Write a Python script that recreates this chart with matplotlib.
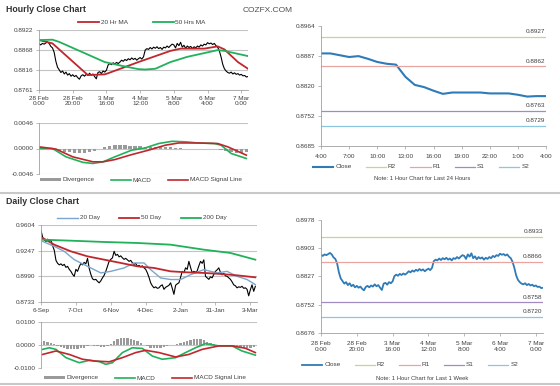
import numpy as np
import matplotlib.pyplot as plt
from matplotlib.lines import Line2D

plt.rcParams['font.family'] = ['Liberation Sans', 'DejaVu Sans']

# ---------- data ----------
# hourly closes, last week (used by the hourly chart and the 1 week chart)
hourly_close = [
    0.8885, 0.8882, 0.8886, 0.8884, 0.8887, 0.8890, 0.8886, 0.8878, 0.8874, 0.8862,
    0.8838, 0.8822, 0.8815, 0.8808, 0.8812, 0.8804, 0.8809, 0.8801, 0.8805, 0.8798,
    0.8802, 0.8797, 0.8800, 0.8794, 0.8790, 0.8799, 0.8802, 0.8798, 0.8803, 0.8800,
    0.8806, 0.8801, 0.8804, 0.8797, 0.8791, 0.8808, 0.8810, 0.8805, 0.8812, 0.8809,
    0.8814, 0.8828, 0.8832, 0.8829, 0.8834, 0.8831, 0.8835, 0.8832, 0.8836, 0.8841,
    0.8838, 0.8843, 0.8840, 0.8845, 0.8842, 0.8847, 0.8843, 0.8846, 0.8841, 0.8845,
    0.8848, 0.8844, 0.8850, 0.8868, 0.8872, 0.8870, 0.8875, 0.8871, 0.8876, 0.8873,
    0.8877, 0.8872, 0.8875, 0.8870, 0.8876, 0.8874, 0.8879, 0.8875, 0.8880, 0.8884,
    0.8882, 0.8874, 0.8886, 0.8880, 0.8889, 0.8876, 0.8881, 0.8873, 0.8879, 0.8875,
    0.8878, 0.8872, 0.8877, 0.8874, 0.8879, 0.8876, 0.8882, 0.8879, 0.8884, 0.8882,
    0.8888, 0.8885, 0.8887, 0.8883, 0.8886, 0.8880, 0.8876, 0.8866, 0.8850, 0.8830,
    0.8818, 0.8812, 0.8808, 0.8806, 0.8809, 0.8804, 0.8807, 0.8803, 0.8805, 0.8801,
    0.8803, 0.8799, 0.8800, 0.8796, 0.8797,
]
ma20_hours = [0, 8, 29, 39, 41, 59, 78, 84, 98, 106, 110, 118, 124]
ma20_vals = [0.8895, 0.8886, 0.8801, 0.8803, 0.8806, 0.8836, 0.8866, 0.8872,
             0.8872, 0.8878, 0.8870, 0.8836, 0.8818]
ma50_hours = [0, 8, 12, 20, 39, 49, 59, 63, 69, 78, 88, 98, 106, 110, 118, 124]
ma50_vals = [0.8895, 0.8896, 0.8890, 0.8874, 0.8836, 0.8826, 0.8817, 0.8816,
             0.8818, 0.8836, 0.8850, 0.8860, 0.8868, 0.8866, 0.8858, 0.8852]

h_macd_hours = [0, 8, 16, 26, 32, 38, 45, 55, 63, 71, 79, 87, 94, 104, 108, 114, 123]
h_macd_vals = [0.0000, 0.0000, -0.0015, -0.0025, -0.0027, -0.0024, -0.0015, -0.0003,
               0.0001, 0.0009, 0.0013, 0.0012, 0.0010, 0.0009, 0.0006, -0.0009, -0.0018]
h_sig_hours = [0, 10, 20, 32, 38, 45, 55, 65, 75, 83, 94, 106, 112, 123]
h_sig_vals = [0.0003, -0.0001, -0.0015, -0.0024, -0.0024, -0.0020, -0.0011, -0.0003,
              0.0006, 0.0010, 0.0010, 0.0009, 0.0003, -0.0012]
h_div_hours = list(range(0, 124, 3))
h_div_vals = [0.0002, 0.0001, 0.0000, -0.0002, -0.0004, -0.0006, -0.0007, -0.0008,
              -0.0009, -0.0009, -0.0007, -0.0004, -0.0001, 0.0002, 0.0005, 0.0007,
              0.0007, 0.0006, 0.0005, 0.0004, 0.0004, 0.0003, 0.0002, 0.0003,
              0.0003, 0.0003, 0.0002, 0.0001, 0.0001, 0.0000, 0.0000, 0.0000,
              0.0000, 0.0000, 0.0000, -0.0001, -0.0002, -0.0005, -0.0007, -0.0008,
              -0.0008, -0.0007]
hour_ticks = [0, 20, 40, 60, 80, 100, 120]
hour_labels = ['28 Feb\n0:00', '28 Feb\n20:00', '3 Mar\n16:00', '4 Mar\n12:00',
               '5 Mar\n8:00', '6 Mar\n4:00', '7 Mar\n0:00']

# last 24 hours
close24 = [0.8891, 0.8891, 0.8887, 0.8883, 0.8885, 0.8879, 0.8872, 0.8868, 0.8866,
           0.8839, 0.8821, 0.8816, 0.8808, 0.8801, 0.8804, 0.8804, 0.8804, 0.8804,
           0.8802, 0.8802, 0.8802, 0.8799, 0.8795, 0.8796, 0.8796]
h24_labels = ['4:00', '7:00', '10:00', '13:00', '16:00', '19:00', '22:00', '1:00', '4:00']
levels24 = [0.8927, 0.8862, 0.8763, 0.8729]
levels_week = [0.8933, 0.8866, 0.8758, 0.8720]
level_names = ['R2', 'R1', 'S1', 'S2']

# daily closes
daily_close = [
    0.9450, 0.9380, 0.9355, 0.9340, 0.9362, 0.9345, 0.9350, 0.9295, 0.9250, 0.9150,
    0.9120, 0.9105, 0.9115, 0.9098, 0.9110, 0.9080, 0.9090, 0.9060, 0.9040, 0.9010,
    0.8990, 0.9060, 0.9040, 0.9085, 0.9120, 0.9105, 0.9130, 0.9115, 0.9170, 0.9070,
    0.9010, 0.8965, 0.8955, 0.8960, 0.8940, 0.8925, 0.8945, 0.8975, 0.9000, 0.9040,
    0.9090, 0.9140, 0.9160, 0.9175, 0.9240, 0.9200, 0.9210, 0.9185, 0.9195, 0.9175,
    0.9160, 0.9170, 0.9155, 0.9140, 0.9150, 0.9125, 0.9110, 0.9120, 0.9090, 0.9100,
    0.9085, 0.9095, 0.9075, 0.9060, 0.9025, 0.8980, 0.8925, 0.8895, 0.8875, 0.8885,
    0.8870, 0.8875, 0.8895, 0.8905, 0.8860, 0.8880, 0.8890, 0.8900, 0.8925, 0.8870,
    0.8810, 0.8900, 0.8915, 0.8925, 0.8980, 0.9040, 0.9025, 0.9075, 0.9060, 0.9140,
    0.9080, 0.9025, 0.9040, 0.9030, 0.9045, 0.9095, 0.9140, 0.9120, 0.9155, 0.8990,
    0.8975, 0.8960, 0.8985, 0.8975, 0.9010, 0.9040, 0.9055, 0.9075, 0.9030, 0.9005,
    0.9020, 0.8995, 0.8990, 0.8975, 0.8960, 0.8935, 0.8905, 0.8895, 0.8875, 0.8885,
    0.8880, 0.8890, 0.8870, 0.8875, 0.8860, 0.8795, 0.8855, 0.8905, 0.8840, 0.8890,
]
d20_days = [1, 8, 14, 20, 26, 32, 36, 42, 50, 56, 62, 66, 72, 78, 84, 90, 98, 106,
            112, 118, 124, 129]
d20_vals = [0.9340, 0.9290, 0.9240, 0.9157, 0.9107, 0.9057, 0.9024, 0.9040, 0.9074,
            0.9124, 0.9124, 0.9057, 0.8974, 0.8958, 0.8958, 0.9007, 0.9057, 0.9024,
            0.9040, 0.8990, 0.8958, 0.8907]
d50_days = [1, 8, 18, 28, 38, 48, 58, 68, 78, 88, 98, 108, 118, 129]
d50_vals = [0.9374, 0.9307, 0.9240, 0.9190, 0.9157, 0.9124, 0.9090, 0.9074, 0.9040,
            0.9030, 0.9024, 0.9014, 0.9000, 0.8980]
d200_days = [1, 18, 38, 58, 78, 98, 114, 129]
d200_vals = [0.9357, 0.9347, 0.9334, 0.9324, 0.9307, 0.9257, 0.9224, 0.9157]

d_macd_days = [1, 5, 9, 15, 23, 29, 35, 39, 43, 49, 55, 61, 67, 73, 81, 87, 93, 99,
               107, 115, 121, 129]
d_macd_vals = [-0.0019, -0.0012, -0.0019, -0.0055, -0.0077, -0.0067, -0.0072, -0.0084,
               -0.0077, -0.0033, -0.0012, -0.0015, -0.0048, -0.0062, -0.0055, -0.0033,
               -0.0012, 0.0006, -0.0004, -0.0004, -0.0026, -0.0044]
d_sig_days = [1, 9, 17, 25, 33, 41, 49, 57, 63, 71, 81, 89, 97, 107, 115, 123, 129]
d_sig_vals = [-0.0041, -0.0026, -0.0041, -0.0062, -0.0070, -0.0073, -0.0055, -0.0033,
              -0.0023, -0.0033, -0.0052, -0.0041, -0.0019, -0.0004, -0.0004, -0.0014,
              -0.0033]
d_div_days = list(range(0, 130, 2))
d_div_vals = [0.0015, 0.0016, 0.0014, 0.0010, 0.0004, -0.0004, -0.0010, -0.0015,
              -0.0018, -0.0019, -0.0019, -0.0017, -0.0015, -0.0011, -0.0006, -0.0002,
              -0.0003, -0.0006, -0.0008, -0.0007, -0.0003, 0.0006, 0.0016, 0.0025,
              0.0030, 0.0032, 0.0031, 0.0028, 0.0023, 0.0016, 0.0009, 0.0002,
              -0.0006, -0.0012, -0.0015, -0.0014, -0.0011, -0.0007, -0.0003, -0.0001,
              0.0001, 0.0004, 0.0009, 0.0014, 0.0018, 0.0021, 0.0024, 0.0025,
              0.0024, 0.0020, 0.0014, 0.0008, 0.0004, 0.0001, -0.0001, -0.0002,
              -0.0003, -0.0005, -0.0008, -0.0010, -0.0012, -0.0012, -0.0012, -0.0011,
              -0.0010]
day_ticks = [0, 21, 42, 63, 84, 105, 126]
day_labels = ['6-Sep', '7-Oct', '6-Nov', '4-Dec', '2-Jan', '31-Jan', '3-Mar']

# ---------- styling ----------
W, H = 560, 386
RED = '#c0272d'
GREEN = '#21b15a'
BLUE = '#2e7bb8'
LVL_COLORS = ['#cfd08a', '#e8a4a0', '#a08cc2', '#8cc6e2']
TXT = '#404040'
FS = 4.6

fig = plt.figure(figsize=(W / 100, H / 100), dpi=100)


def box(x0, y0, x1, y1):
    return fig.add_axes([x0 / W, 1 - y1 / H, (x1 - x0) / W, (y1 - y0) / H])


def ftext(x, y, s, **kw):
    fig.text(x / W, 1 - y / H, s, **kw)


def legend(ax, x, y, ncol, spacing=2.5, order=None):
    handles, labels = ax.get_legend_handles_labels()
    if order:
        handles = [handles[i] for i in order]
        labels = [labels[i] for i in order]
    ax.legend(handles, labels, loc='center', bbox_to_anchor=(x / W, 1 - y / H),
              bbox_transform=fig.transFigure, ncol=ncol, frameon=False,
              fontsize=FS, handlelength=3.2, handleheight=0.35, columnspacing=spacing,
              handletextpad=0.3, labelcolor=TXT, borderpad=0, borderaxespad=0)


def style(ax, yticks, ylabels, grid=True):
    ax.set_yticks(yticks)
    ax.set_yticklabels(ylabels)
    for s in ['top', 'right']:
        ax.spines[s].set_visible(False)
    ax.spines['left'].set_color('#a0a0a0')
    ax.spines['bottom'].set_color('#a0a0a0')
    ax.spines['left'].set_linewidth(0.6)
    ax.spines['bottom'].set_linewidth(0.6)
    ax.tick_params(labelsize=FS, labelcolor=TXT, length=2, width=0.5,
                   color='#a0a0a0', pad=2)
    if grid:
        ax.grid(axis='y', color='#c4c4c4', lw=0.8)
        ax.set_axisbelow(True)


# ---------- Hourly close chart ----------
ax1 = box(39, 30, 248, 90)
ax1.plot(range(len(hourly_close)), hourly_close, color='black', lw=0.8)
ax1.plot(ma20_hours, ma20_vals, color=RED, lw=1.3, label='20 Hr MA')
ax1.plot(ma50_hours, ma50_vals, color=GREEN, lw=1.3, label='50 Hrs MA')
ax1.set_xlim(0, 124)
ax1.set_ylim(0.8761, 0.8922)
style(ax1, np.linspace(0.8761, 0.8922, 4), ['0.8761', '0.8816', '0.8868', '0.8922'])
ax1.set_xticks(hour_ticks)
ax1.set_xticklabels(hour_labels, linespacing=1.1)
legend(ax1, 142, 22, 2, spacing=4)

ax2 = box(39, 123, 248, 174)
ax2.bar(h_div_hours, h_div_vals, width=2.0, color='#9a9a9a', label='Divergence')
ax2.plot(h_macd_hours, h_macd_vals, color=GREEN, lw=1.2, label='MACD')
ax2.plot(h_sig_hours, h_sig_vals, color=RED, lw=1.2, label='MACD Signal Line')
ax2.set_xlim(0, 124)
ax2.set_ylim(-0.0046, 0.0046)
style(ax2, [-0.0046, 0.0, 0.0046], ['-0.0046', '0.0000', '0.0046'])
ax2.spines['bottom'].set_visible(False)
ax2.set_xticks([])
legend(ax2, 141, 180, 3, order=[2, 0, 1])

# ---------- Last 24 hours ----------
ax3 = box(321, 26, 546, 146)
ax3.plot(range(len(close24)), close24, color=BLUE, lw=1.5, label='Close')
for name, val, col in zip(level_names, levels24, LVL_COLORS):
    ax3.axhline(val, color=col, lw=0.9, label=name)
    ax3.annotate(f'{val:.4f}', (23.9, val), xytext=(0, 2), textcoords='offset points',
                 ha='right', va='bottom', fontsize=FS, color=TXT)
ax3.set_xlim(0, 24)
ax3.set_ylim(0.8685, 0.8952)
style(ax3, np.linspace(0.8685, 0.8952, 5),
      ['0.8685', '0.8752', '0.8820', '0.8887', '0.8964'], grid=False)
ax3.set_xticks(range(0, 25, 3))
ax3.set_xticklabels(h24_labels)
ax3.tick_params(axis='x', pad=4)
legend(ax3, 421, 167, 5, spacing=2.2)
ftext(422, 179, 'Note: 1 Hour Chart for Last 24 Hours', fontsize=FS - 0.4,
      color=TXT, ha='center', va='center')

# ---------- Daily close chart ----------
ax4 = box(41, 225, 257, 302)
ax4.plot(range(len(daily_close)), daily_close, color='black', lw=0.8)
ax4.plot(d20_days, d20_vals, color='#7aa6cc', lw=1.0, label='20 Day')
ax4.plot(d50_days, d50_vals, color=RED, lw=1.3, label='50 Day')
ax4.plot(d200_days, d200_vals, color=GREEN, lw=1.3, label='200 Day')
ax4.set_xlim(0, 130)
ax4.set_ylim(0.8733, 0.9504)
style(ax4, np.linspace(0.8733, 0.9504, 4), ['0.8733', '0.8990', '0.9247', '0.9604'])
ax4.set_xticks(day_ticks)
ax4.set_xticklabels(day_labels)
legend(ax4, 142, 218, 3, spacing=3)

ax5 = box(41, 322, 257, 368)
ax5.bar(d_div_days, d_div_vals, width=1.4, color='#9a9a9a', label='Divergence')
ax5.plot(d_macd_days, d_macd_vals, color=GREEN, lw=1.2, label='MACD')
ax5.plot(d_sig_days, d_sig_vals, color=RED, lw=1.2, label='MACD Signal Line')
ax5.set_xlim(0, 130)
ax5.set_ylim(-0.0100, 0.0100)
style(ax5, [-0.01, 0.0, 0.01], ['-0.0100', '0.0000', '0.0100'])
ax5.spines['bottom'].set_visible(False)
ax5.set_xticks([])
legend(ax5, 145, 378, 3, order=[2, 0, 1])

# ---------- Last 1 week ----------
ax6 = box(321, 220, 543, 333)
ax6.plot(range(len(hourly_close)), hourly_close, color=BLUE, lw=1.3, label='Close')
for name, val, col in zip(level_names, levels_week, LVL_COLORS):
    ax6.axhline(val, color=col, lw=0.9, label=name)
    ax6.annotate(f'{val:.4f}', (123.8, val), xytext=(0, 2), textcoords='offset points',
                 ha='right', va='bottom', fontsize=FS, color=TXT)
ax6.set_xlim(0, 124)
ax6.set_ylim(0.8676, 0.8978)
style(ax6, np.linspace(0.8676, 0.8978, 5),
      ['0.8676', '0.8752', '0.8827', '0.8903', '0.8978'], grid=False)
ax6.set_xticks(hour_ticks)
ax6.set_xticklabels(hour_labels, linespacing=1.1)
ax6.tick_params(axis='x', pad=4)
legend(ax6, 410, 365, 5, spacing=2.2)
ftext(422, 379, 'Note: 1 Hour Chart for Last 1 Week', fontsize=FS - 0.4,
      color=TXT, ha='center', va='center')

# ---------- titles and separators ----------
ftext(6, 10, 'Hourly Close Chart', fontsize=6.3, weight='bold', color='#303030',
      va='center')
ftext(6, 202, 'Daily Close Chart', fontsize=6.3, weight='bold', color='#303030',
      va='center')
ftext(243, 10, 'COZFX.COM', fontsize=6.0, color='#505050', va='center')
for yy in (193, 384):
    fig.add_artist(Line2D([0, 1], [1 - yy / H, 1 - yy / H], color='#c8c8c8', lw=1.5,
                          transform=fig.transFigure))

fig.savefig('out.png', dpi=100)
